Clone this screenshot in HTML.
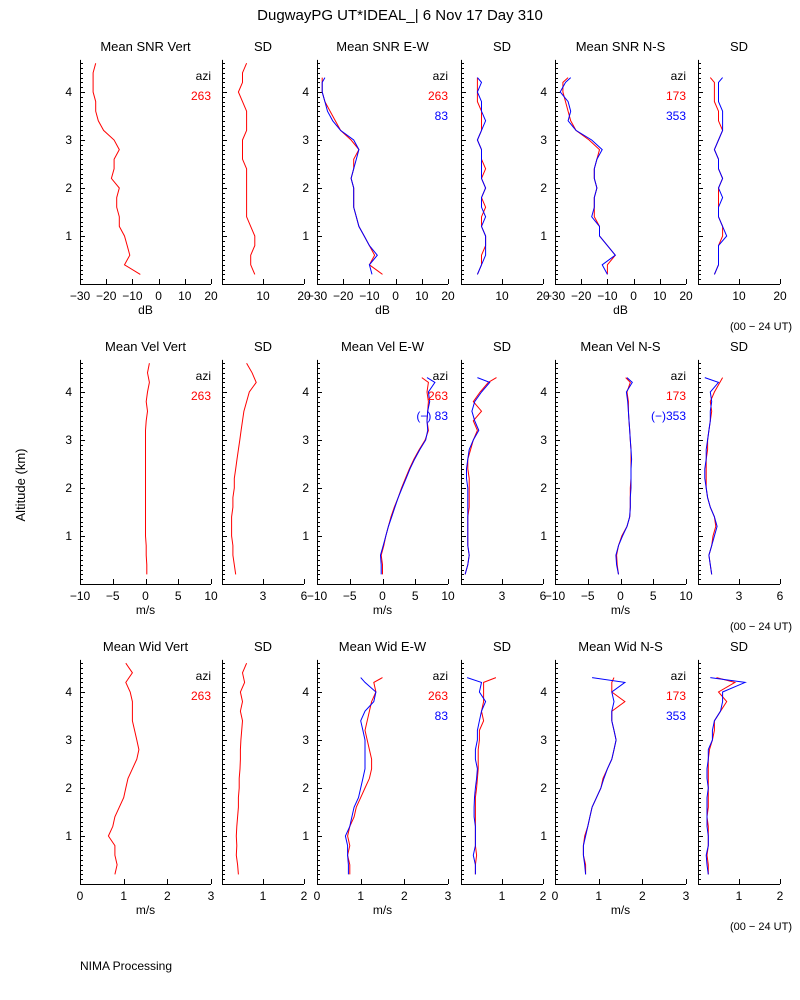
<!DOCTYPE html>
<html><head><meta charset="utf-8"><style>
html,body{margin:0;padding:0;background:#fff;}
svg{display:block;font-family:"Liberation Sans","DejaVu Sans",sans-serif;}
</style></head><body>
<svg id="c" width="800" height="1000" viewBox="0 0 800 1000">
<rect width="800" height="1000" fill="#fff"/>
<text x="400" y="20" font-size="15" text-anchor="middle">DugwayPG UT*IDEAL_|   6 Nov 17 Day 310</text>
<text x="25" y="485" font-size="13" text-anchor="middle" transform="rotate(-90 25 485)">Altitude (km)</text>
<text x="80" y="970" font-size="12">NIMA Processing</text>
</svg>
<script>
const altO=[0.2,0.4,0.6,0.8,1.0,1.2,1.4,1.6,1.8,2.0,2.2,2.4,2.6,2.8,3.0,3.2,3.4,3.6,3.8,4.0,4.2,4.3];
const altV=[0.2,0.4,0.6,0.8,1.0,1.2,1.4,1.6,1.8,2.0,2.2,2.4,2.6,2.8,3.0,3.2,3.4,3.6,3.8,4.0,4.2,4.4,4.6];
// Row 1 SNR
const snrVert=[-7,-13,-11,-12,-13,-15,-15,-16,-16,-15,-18,-17,-17,-15,-17,-21,-23,-24,-24,-25,-25,-25,-24];
const sdSnrVert=[8,7,7,8,8,7,6,6,6,6,6,6,5,5,5,6,6,6,5,4,5,5,6];
const snrEWr=[-5,-10,-8,-10,-12,-14,-15,-16,-16,-16,-17,-16,-16,-14,-17,-21,-23,-25,-27,-28,-28,-28];
const snrEWb=[-9,-10,-7,-10,-12,-14,-15,-16,-16,-16,-17,-16,-15,-14,-16,-21,-24,-26,-27,-28,-28,-27];
const sdSnrEWr=[4,5,5,6,6,5,5,6,5,6,5,6,5,5,4,5,5,5,4,4,4,4];
const sdSnrEWb=[4,5,6,6,6,5,6,5,5,6,5,5,5,5,4,5,6,5,5,4,5,4];
const snrNSr=[-10,-10,-7,-10,-13,-13,-15,-15,-15,-14,-15,-15,-14,-13,-17,-22,-24,-25,-26,-27,-27,-25];
const snrNSb=[-10,-12,-7,-10,-13,-13,-16,-15,-15,-14,-15,-15,-14,-12,-16,-22,-25,-24,-25,-28,-26,-24];
const sdSnrNSr=[4,5,5,5,6,6,5,5,5,5,6,5,5,4,5,6,5,5,4,4,4,3];
const sdSnrNSb=[4,5,5,5,7,6,5,5,6,5,6,5,5,4,5,6,6,6,5,5,5,6];
// Row 2 Vel
const velVert=[0.2,0.2,0.1,0.1,0,0,0,0,0,0,0,0,0,0,0,0,0.1,0.3,0.1,0.3,0.6,0.3,0.6];
const sdVelVert=[1.0,0.9,0.8,0.8,0.7,0.7,0.7,0.8,0.8,0.9,0.9,1.0,1.1,1.2,1.3,1.4,1.5,1.6,1.8,2.0,2.5,2.2,1.8];
const velEWr=[0,0,-0.2,0.2,0.5,0.9,1.3,1.8,2.4,2.9,3.5,4.1,4.8,5.6,6.5,7.0,6.8,6.9,7.0,6.8,7.0,6.0];
const velEWb=[-0.2,-0.2,-0.3,0.1,0.5,0.9,1.4,1.9,2.4,3.0,3.6,4.2,4.9,5.7,6.6,6.9,6.8,6.9,7.2,7.0,8.0,6.8];
const sdVelEWr=[0.3,0.5,0.6,0.5,0.5,0.5,0.5,0.6,0.6,0.6,0.6,0.5,0.5,0.7,0.9,1.2,0.9,1.5,0.9,1.4,2.0,2.6];
const sdVelEWb=[0.3,0.5,0.6,0.5,0.5,0.5,0.5,0.5,0.5,0.5,0.4,0.4,0.5,0.6,0.9,1.3,1.0,0.8,1.0,1.5,2.1,1.2];
const velNSr=[-0.3,-0.5,-0.6,-0.3,0.2,1.0,1.4,1.5,1.5,1.5,1.6,1.6,1.6,1.6,1.5,1.4,1.3,1.2,1.2,1.0,1.5,0.8];
const velNSb=[-0.3,-0.6,-0.7,-0.3,0.3,1.0,1.4,1.5,1.5,1.6,1.6,1.6,1.7,1.6,1.5,1.4,1.3,1.2,1.1,0.9,1.8,1.0];
const sdVelNSr=[1.0,0.9,0.8,1.0,1.1,1.3,1.2,0.9,0.7,0.6,0.6,0.6,0.6,0.7,0.7,0.8,0.9,1.0,0.9,1.2,1.6,1.8];
const sdVelNSb=[1.0,0.9,0.8,1.0,1.2,1.4,1.2,0.9,0.7,0.6,0.5,0.5,0.6,0.6,0.7,0.8,0.9,0.9,1.0,0.9,1.5,0.5];
// Row 3 Wid
const widVert=[0.8,0.85,0.8,0.8,0.65,0.75,0.8,0.9,1.0,1.05,1.1,1.2,1.3,1.35,1.3,1.25,1.2,1.2,1.2,1.15,1.05,1.2,1.05];
const sdWidVert=[0.4,0.38,0.35,0.36,0.35,0.36,0.38,0.4,0.4,0.42,0.42,0.44,0.45,0.45,0.46,0.48,0.5,0.45,0.5,0.45,0.55,0.5,0.6];
const widEWr=[0.75,0.75,0.7,0.75,0.7,0.75,0.85,0.9,1.0,1.1,1.2,1.25,1.25,1.2,1.15,1.1,1.15,1.2,1.25,1.35,1.3,1.5];
const widEWb=[0.72,0.72,0.7,0.7,0.65,0.75,0.8,0.85,0.95,1.0,1.05,1.1,1.1,1.1,1.1,1.05,1.0,1.1,1.3,1.35,1.1,1.0];
const sdWidEWr=[0.35,0.35,0.38,0.35,0.35,0.35,0.35,0.35,0.35,0.38,0.4,0.42,0.42,0.42,0.45,0.45,0.55,0.5,0.55,0.55,0.55,0.85];
const sdWidEWb=[0.35,0.35,0.3,0.35,0.35,0.35,0.32,0.32,0.33,0.35,0.38,0.4,0.35,0.35,0.4,0.4,0.45,0.5,0.6,0.45,0.5,0.15];
const widNSr=[0.7,0.7,0.65,0.65,0.68,0.75,0.8,0.85,0.95,1.05,1.1,1.2,1.3,1.35,1.4,1.35,1.3,1.3,1.6,1.3,1.3,1.35];
const widNSb=[0.7,0.68,0.65,0.65,0.7,0.75,0.8,0.85,0.95,1.05,1.12,1.2,1.3,1.35,1.4,1.35,1.3,1.3,1.35,1.3,1.6,0.85];
const sdWidNSr=[0.25,0.25,0.22,0.25,0.25,0.25,0.22,0.25,0.25,0.25,0.25,0.25,0.25,0.28,0.35,0.4,0.4,0.55,0.7,0.5,0.9,0.45];
const sdWidNSb=[0.25,0.22,0.2,0.25,0.25,0.22,0.22,0.22,0.22,0.25,0.22,0.22,0.25,0.25,0.35,0.35,0.4,0.55,0.6,0.6,1.15,0.3];

const meanTicks1=[-30,-20,-10,0,10,20], sdTicks1=[10,20];
const meanTicks2=[-10,-5,0,5,10], sdTicks2=[3,6];
const meanTicks3=[0,1,2,3], sdTicks3=[1,2];
const altTicks=[1,2,3,4];

const svg=document.getElementById('c');
const NS='http://www.w3.org/2000/svg';
function mk(tag,attrs,parent){const e=document.createElementNS(NS,tag);for(const k in attrs)e.setAttribute(k,attrs[k]);(parent||svg).appendChild(e);return e;}
function txt(x,y,s,anchor,color,size,parent){const t=mk('text',{x:x,y:y,'font-size':size||12,'text-anchor':anchor||'middle',fill:color||'#000'},parent);t.textContent=s;return t;}

const MW=131, SW=82, TOPKM=4.67, PXKM=48;
const colX=[[80,222],[317,461],[555,698]];
const rowBase=[284,584,884];

function panel(name,x0,w,base,xmin,xmax,ticks,title,unit,labelY,series){
  const g=mk('g',{});
  
  
  const X=v=>x0+(v-xmin)/(xmax-xmin)*w;
  const Y=a=>base-a*PXKM;
  const top=base-TOPKM*PXKM;
  const ax=mk('path',{d:`M${x0+0.5},${top}V${base+0.5}H${x0+w}`,stroke:'#000','stroke-width':1,fill:'none'},g);
  
  
  let d='';
  for(let i=1;i<=46;i++){const y=Math.round(Y(i/10))+0.5;d+=`M${x0},${y}h${i%10===0?5:3}`;}
  for(const t of ticks){const x=Math.round(X(t))+0.5;d+=`M${x},${base}v-5`;}
  mk('path',{d:d,stroke:'#000','stroke-width':1},g);
  if(labelY){for(const a of altTicks){const l=txt(x0-8,Y(a)+4,String(a),'end','#000',12,g);}}
  for(const t of ticks){const l=txt(X(t),base+16,t<0?'\u2212'+(-t):String(t),'middle','#000',12,g);}
  const tt=txt(x0+w/2,base-233,title,'middle','#000',13,g);
  
  
  if(unit){const u=txt(x0+w/2,base+30,unit,'middle','#000',12,g);}
  for(const s of series){
    const pts=s.v.map((v,i)=>X(v).toFixed(1)+','+Y(s.a[i]).toFixed(1)).join(' ');
    const p=mk('polyline',{points:pts,fill:'none',stroke:s.c,'stroke-width':1},g);
    
    
  }
  return g;
}
function legend(x,base,items){
  const a=txt(x,base-204,'azi','end','#000',12);
  
  
  items.forEach((it,i)=>{const t=txt(x,base-184+20*i,it[0],'end',it[1],12);});
}
const R='#f00',B='#00f';
const rows=[
 {mt:meanTicks1,st:sdTicks1,mr:[-30,20],sr:[0,20],u:'dB',t:['Mean SNR Vert','Mean SNR E-W','Mean SNR N-S'],
  m:[[{v:snrVert,a:altV,c:R,n:'snr-vert-263'}],[{v:snrEWr,a:altO,c:R,n:'snr-ew-263'},{v:snrEWb,a:altO,c:B,n:'snr-ew-83'}],[{v:snrNSr,a:altO,c:R,n:'snr-ns-173'},{v:snrNSb,a:altO,c:B,n:'snr-ns-353'}]],
  s:[[{v:sdSnrVert,a:altV,c:R,n:'sd-snr-vert'}],[{v:sdSnrEWr,a:altO,c:R,n:'sd-snr-ew-263'},{v:sdSnrEWb,a:altO,c:B,n:'sd-snr-ew-83'}],[{v:sdSnrNSr,a:altO,c:R,n:'sd-snr-ns-173'},{v:sdSnrNSb,a:altO,c:B,n:'sd-snr-ns-353'}]],
  lg:[['83'],['353']]},
 {mt:meanTicks2,st:sdTicks2,mr:[-10,10],sr:[0,6],u:'m/s',t:['Mean Vel Vert','Mean Vel E-W','Mean Vel N-S'],
  m:[[{v:velVert,a:altV,c:R,n:'vel-vert-263'}],[{v:velEWr,a:altO,c:R,n:'vel-ew-263'},{v:velEWb,a:altO,c:B,n:'vel-ew-83'}],[{v:velNSr,a:altO,c:R,n:'vel-ns-173'},{v:velNSb,a:altO,c:B,n:'vel-ns-353'}]],
  s:[[{v:sdVelVert,a:altV,c:R,n:'sd-vel-vert'}],[{v:sdVelEWr,a:altO,c:R,n:'sd-vel-ew-263'},{v:sdVelEWb,a:altO,c:B,n:'sd-vel-ew-83'}],[{v:sdVelNSr,a:altO,c:R,n:'sd-vel-ns-173'},{v:sdVelNSb,a:altO,c:B,n:'sd-vel-ns-353'}]],
  lg:[['(\u2212) 83'],['(\u2212)353']]},
 {mt:meanTicks3,st:sdTicks3,mr:[0,3],sr:[0,2],u:'m/s',t:['Mean Wid Vert','Mean Wid E-W','Mean Wid N-S'],
  m:[[{v:widVert,a:altV,c:R,n:'wid-vert-263'}],[{v:widEWr,a:altO,c:R,n:'wid-ew-263'},{v:widEWb,a:altO,c:B,n:'wid-ew-83'}],[{v:widNSr,a:altO,c:R,n:'wid-ns-173'},{v:widNSb,a:altO,c:B,n:'wid-ns-353'}]],
  s:[[{v:sdWidVert,a:altV,c:R,n:'sd-wid-vert'}],[{v:sdWidEWr,a:altO,c:R,n:'sd-wid-ew-263'},{v:sdWidEWb,a:altO,c:B,n:'sd-wid-ew-83'}],[{v:sdWidNSr,a:altO,c:R,n:'sd-wid-ns-173'},{v:sdWidNSb,a:altO,c:B,n:'sd-wid-ns-353'}]],
  lg:[['83'],['353']]}
];
rows.forEach((r,ri)=>{
  const base=rowBase[ri];
  for(let c=0;c<3;c++){
    panel('mean-panel-r'+(ri+1)+'c'+(c+1),colX[c][0],MW,base,r.mr[0],r.mr[1],r.mt,r.t[c],r.u,true,r.m[c]);
    panel('sd-panel-r'+(ri+1)+'c'+(c+1),colX[c][1],SW,base,r.sr[0],r.sr[1],r.st,'SD',null,false,r.s[c]);
  }
  const lx0=colX[0][0]+MW, lx1=colX[1][0]+MW, lx2=colX[2][0]+MW;
  legend(lx0,base,[['263',R]]);
  legend(lx1,base,[['263',R],[r.lg[0][0],B]]);
  legend(lx2,base,[['173',R],[r.lg[1][0],B]]);
  const ut=txt(792,base+46,'(00 \u2212 24 UT)','end','#000',11);
  
  
});
</script>
</body></html>
